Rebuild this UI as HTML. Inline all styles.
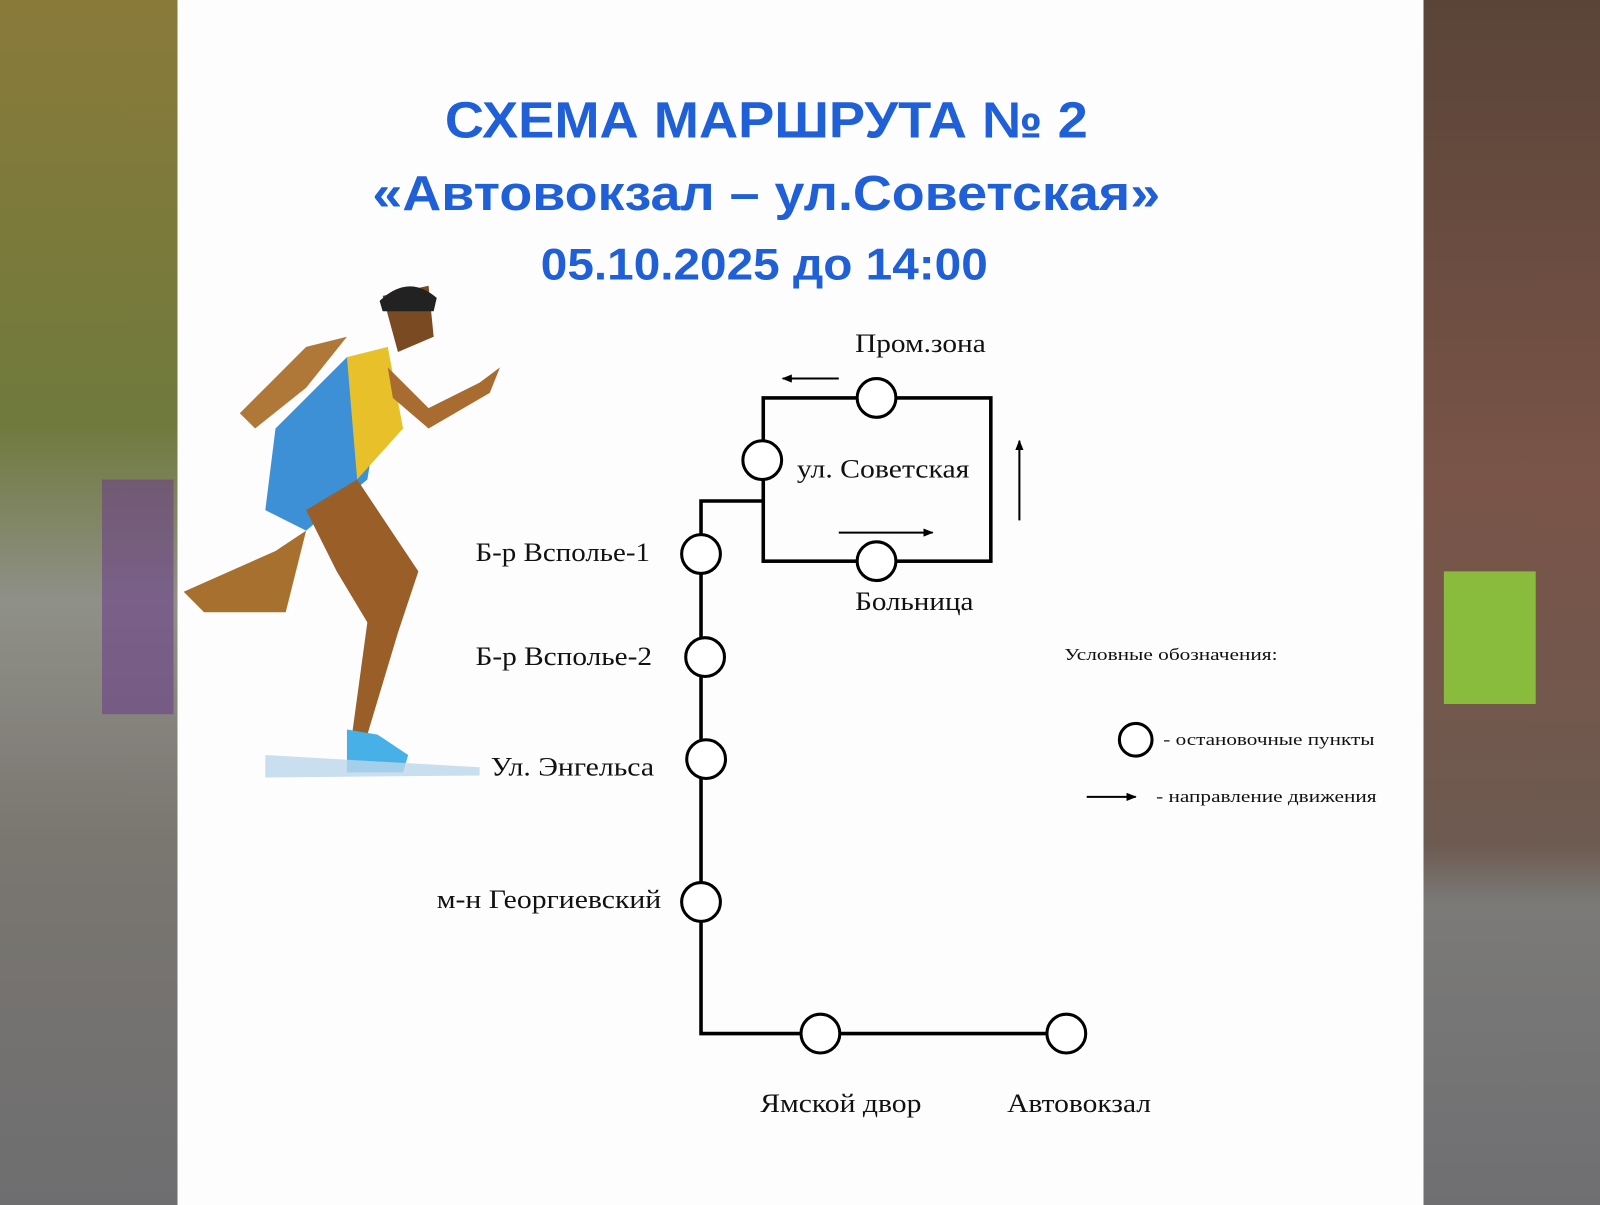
<!DOCTYPE html>
<html><head><meta charset="utf-8"><style>
html,body{margin:0;padding:0;width:1600px;height:1205px;overflow:hidden;background:#fff}
svg{display:block}
.t{font-family:"Liberation Sans","DejaVu Sans",sans-serif;font-weight:bold;fill:#1f5fd8}
.l{font-family:"Liberation Serif","DejaVu Serif",serif;font-size:26px;fill:#111}
.s{font-family:"Liberation Serif","DejaVu Serif",serif;font-size:17px;fill:#111}
</style></head><body>
<svg width="1600" height="1205" viewBox="0 0 1568 1181" preserveAspectRatio="none" xmlns="http://www.w3.org/2000/svg">
<defs>
<linearGradient id="lg" x1="0" y1="0" x2="0" y2="1">
<stop offset="0" stop-color="#8a7a3a"/><stop offset="0.35" stop-color="#6f7a3c"/><stop offset="0.5" stop-color="#8f9088"/><stop offset="0.7" stop-color="#7a7670"/><stop offset="1" stop-color="#6e6e70"/></linearGradient>
<linearGradient id="rg" x1="0" y1="0" x2="0" y2="1">
<stop offset="0" stop-color="#5a4438"/><stop offset="0.4" stop-color="#7a5448"/><stop offset="0.7" stop-color="#6d5a50"/><stop offset="0.75" stop-color="#7b7a78"/><stop offset="1" stop-color="#6f6f72"/></linearGradient>
<marker id="ah" markerWidth="10" markerHeight="8" refX="9" refY="4" orient="auto" markerUnits="userSpaceOnUse"><path d="M0,0 L10,4 L0,8 z" fill="#000"/></marker>
</defs>
<rect x="0" y="0" width="174" height="1181" fill="url(#lg)"/>
<rect x="100" y="470" width="70" height="230" fill="#6a3a8a" opacity="0.55"/>
<rect x="1395" y="0" width="173" height="1181" fill="url(#rg)"/>
<rect x="1415" y="560" width="90" height="130" fill="#8fd43a" opacity="0.8"/>
<rect x="174" y="0" width="1221" height="1181" fill="#fdfdfd"/>

<text class="t" x="436" y="135" font-size="50" textLength="630" lengthAdjust="spacingAndGlyphs">СХЕМА МАРШРУТА № 2</text>
<text class="t" x="365" y="206" font-size="48" textLength="772" lengthAdjust="spacingAndGlyphs">«Автовокзал – ул.Советская»</text>
<text class="t" x="530" y="274" font-size="44" textLength="438" lengthAdjust="spacingAndGlyphs">05.10.2025 до 14:00</text>

<g>
<polygon points="180,580 270,540 300,520 280,600 200,600" fill="#a8702e"/>
<polygon points="270,420 340,350 380,350 360,470 300,520 260,500" fill="#3d8fd6"/>
<polygon points="340,350 380,340 395,420 350,470" fill="#e8c12a"/>
<polygon points="375,290 420,280 425,330 390,345" fill="#7a4a22"/>
<path d="M372,295 Q400,268 428,292 L425,305 L375,305 z" fill="#222"/>
<polygon points="300,340 340,330 300,380 250,420 235,405" fill="#b07838"/>
<polygon points="380,360 420,400 470,375 490,360 480,385 420,420 385,390" fill="#a86c30"/>
<polygon points="300,500 350,470 410,560 390,620 360,720 345,720 360,610 330,560" fill="#9a5e28"/>
<polygon points="340,715 370,720 400,740 395,757 340,757" fill="#47b0e6"/>
<polygon points="260,740 470,752 470,760 260,762" fill="#bcd6ea" opacity="0.8"/>
</g>

<g stroke="#000" stroke-width="3.5" fill="none">
<rect x="748" y="390" width="223" height="160"/>
<polyline points="748,491 687,491 687,1013 1045,1013"/>
</g>
<g stroke="#000" stroke-width="3" fill="#fff">
<circle cx="859" cy="390" r="19"/><circle cx="747" cy="451" r="19"/><circle cx="859" cy="550" r="19"/>
<circle cx="687" cy="543" r="19"/><circle cx="691" cy="644" r="19"/><circle cx="692" cy="744" r="19"/>
<circle cx="687" cy="884" r="19"/><circle cx="804" cy="1013" r="19"/><circle cx="1045" cy="1013" r="19"/>
<circle cx="1113" cy="725" r="16"/>
</g>
<g stroke="#000" stroke-width="2" marker-end="url(#ah)">
<line x1="822" y1="371" x2="767" y2="371"/>
<line x1="822" y1="522" x2="914" y2="522"/>
<line x1="999" y1="510" x2="999" y2="432"/>
<line x1="1065" y1="781" x2="1113" y2="781"/>
</g>
<text class="l" x="838" y="345" textLength="128" lengthAdjust="spacingAndGlyphs">Пром.зона</text>
<text class="l" x="781" y="468" textLength="169" lengthAdjust="spacingAndGlyphs">ул. Советская</text>
<text class="l" x="838" y="598" textLength="116" lengthAdjust="spacingAndGlyphs">Больница</text>
<text class="l" x="466" y="550" textLength="171" lengthAdjust="spacingAndGlyphs">Б-р Всполье-1</text>
<text class="l" x="466" y="652" textLength="173" lengthAdjust="spacingAndGlyphs">Б-р Всполье-2</text>
<text class="l" x="481" y="760" textLength="160" lengthAdjust="spacingAndGlyphs">Ул. Энгельса</text>
<text class="l" x="428" y="890" textLength="220" lengthAdjust="spacingAndGlyphs">м-н Георгиевский</text>
<text class="l" x="745" y="1090" textLength="158" lengthAdjust="spacingAndGlyphs">Ямской двор</text>
<text class="l" x="987" y="1090" textLength="141" lengthAdjust="spacingAndGlyphs">Автовокзал</text>
<text class="s" x="1043" y="647" textLength="209" lengthAdjust="spacingAndGlyphs">Условные обозначения:</text>
<text class="s" x="1140" y="730" textLength="207" lengthAdjust="spacingAndGlyphs">- остановочные пункты</text>
<text class="s" x="1133" y="786" textLength="216" lengthAdjust="spacingAndGlyphs">- направление движения</text>
</svg>
</body></html>
